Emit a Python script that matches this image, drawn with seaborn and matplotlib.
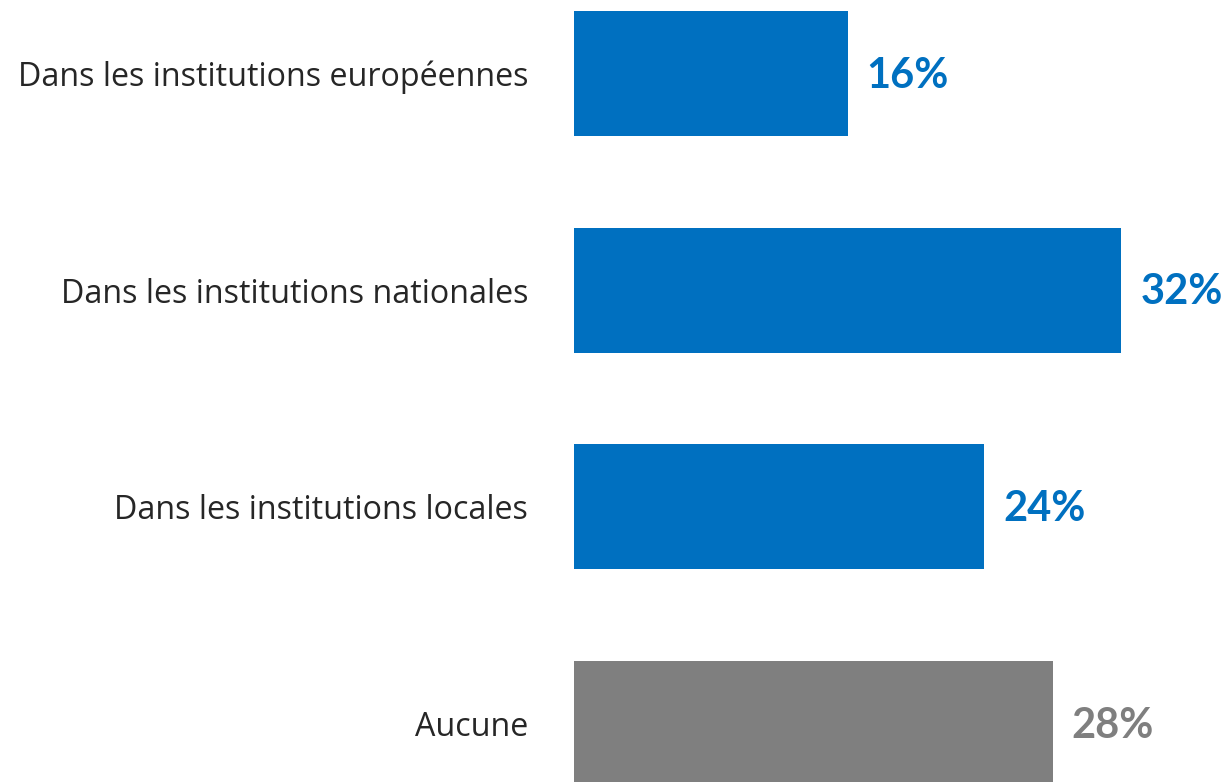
import matplotlib
matplotlib.use("Agg")
import matplotlib.pyplot as plt
import seaborn as sns
import pandas as pd

categories = ["Dans les institutions européennes", "Dans les institutions nationales",
              "Dans les institutions locales", "Aucune"]
values = [16, 32, 24, 28]
labels = ["16%", "32%", "24%", "28%"]
colors = ["#0070C0", "#0070C0", "#0070C0", "#7F7F7F"]

df = pd.DataFrame({"cat": categories, "val": values})

sns.set_theme(style="white")
plt.rcParams["font.family"] = ["Open Sans", "DejaVu Sans"]

W, H = 1230, 782
fig = plt.figure(figsize=(W / 100, H / 100), dpi=100)
x0 = 574
ax = fig.add_axes([x0 / W, 0, 1 - x0 / W, 1])

sns.barplot(data=df, x="val", y="cat", hue="cat", palette=colors, legend=False,
            width=0.577, saturation=1, ax=ax, orient="h", linewidth=0)

ppp = 17.1  # pixels per percent
ax.set_xlim(0, (W - x0) / ppp)
sp = 216.7
c0 = 73.5
ax.set_ylim((H - c0) / sp, -c0 / sp)

for s in ax.spines.values():
    s.set_visible(False)
ax.set_xticks([])
ax.set_xlabel("")
ax.set_ylabel("")
ax.tick_params(axis="y", length=0, pad=33)
for t in ax.get_yticklabels():
    t.set_fontsize(23.2)
    t.set_color("#262626")

for i, (v, lab) in enumerate(zip(values, labels)):
    ax.text(v + 19 / ppp, i + 0.01, lab, va="center", ha="left", fontsize=30,
            fontweight="bold", color=colors[i], family=["Lato", "DejaVu Sans"])

fig.savefig("out.png", dpi=100)
